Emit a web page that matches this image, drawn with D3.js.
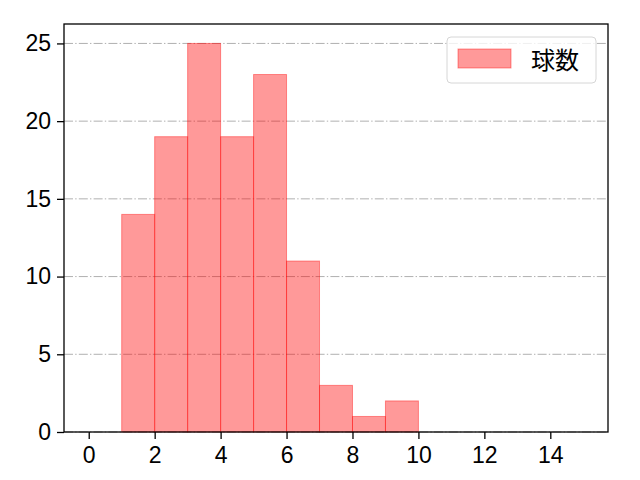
<!DOCTYPE html>
<html><head><meta charset="utf-8">
<script src="https://cdn.jsdelivr.net/npm/d3@7"></script>
<style>body{margin:0;background:#fff}svg{display:block}</style>
</head><body>
<script>
const binStarts = [1,2,3,4,5,6,7,8,9];
const counts = [14,19,25,19,23,11,3,1,2];
const binWidth = 1;
const xTicks = [0,2,4,6,8,10,12,14];
const yTicks = [0,5,10,15,20,25];
const seriesName = "球数";

const W=640,H=480, L=64,R=608,T=24,B=432;
const numFont = "'Liberation Sans', Arial, sans-serif";
const cjkFont = "'Noto Sans CJK JP', sans-serif";
const svg = d3.select("body").append("svg").attr("width",W).attr("height",H);
const x = d3.scaleLinear().domain([-0.75,15.75]).range([L,R]);
const y = d3.scaleLinear().domain([0,26.25]).range([B,T]);

// grid
svg.append("g").selectAll("line").data(yTicks).join("line")
  .attr("x1",L).attr("x2",R).attr("y1",d=>y(d)).attr("y2",d=>y(d))
  .attr("stroke","#b0b0b0").attr("stroke-width",1).attr("stroke-dasharray","9,2.2,1.4,2.2");

// bars
svg.append("g").selectAll("rect").data(binStarts).join("rect")
  .attr("x",(d)=>x(d)).attr("width",d=>x(d+binWidth)-x(d))
  .attr("y",(d,i)=>y(counts[i])).attr("height",(d,i)=>B-y(counts[i]))
  .attr("fill","red").attr("fill-opacity",0.4)
  .attr("stroke","red").attr("stroke-opacity",0.4).attr("stroke-width",1);

// axes
const xa = svg.append("g").attr("transform",`translate(0,${B})`)
  .call(d3.axisBottom(x).tickValues(xTicks).tickSize(7).tickPadding(8).tickFormat(d3.format("d")));
const ya = svg.append("g").attr("transform",`translate(${L},0)`)
  .call(d3.axisLeft(y).tickValues(yTicks).tickSize(7).tickPadding(6).tickFormat(d3.format("d")));
[xa,ya].forEach(a=>{
  a.select(".domain").remove();
  a.selectAll("line").attr("stroke","#000").attr("stroke-width",1.3);
  a.selectAll("text").attr("font-family",numFont).attr("font-size",23).attr("fill","#000");
});
svg.append("rect").attr("x",L).attr("y",T).attr("width",R-L).attr("height",B-T)
  .attr("fill","none").attr("stroke","#000").attr("stroke-width",1.3);

// legend
const lg = svg.append("g");
lg.append("rect").attr("x",447).attr("y",37).attr("width",149).attr("height",46).attr("rx",4)
  .attr("fill","#fff").attr("fill-opacity",0.8).attr("stroke","#d6d6d6").attr("stroke-width",1);
lg.append("rect").attr("x",458).attr("y",49).attr("width",53).attr("height",19)
  .attr("fill","red").attr("fill-opacity",0.4).attr("stroke","red").attr("stroke-opacity",0.4);
lg.append("text").attr("x",531).attr("y",60).attr("dy","0.36em").text(seriesName)
  .attr("font-family",cjkFont).attr("font-size",24).attr("fill","#000");
</script>
</body></html>
